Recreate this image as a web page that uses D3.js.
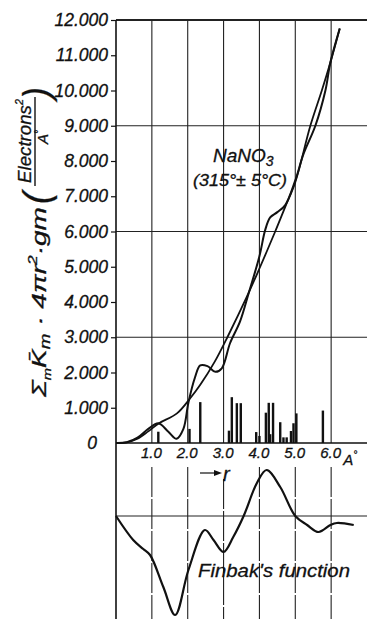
<!DOCTYPE html>
<html>
<head>
<meta charset="utf-8">
<script src="https://cdn.jsdelivr.net/npm/d3@7"></script>
<style>
  html, body { margin: 0; padding: 0; background: #fff; }
  svg text { font-family: "Liberation Sans", "DejaVu Sans", sans-serif; font-style: italic; fill: #111; stroke: #111; stroke-width: 0.3; }
</style>
</head>
<body>
<svg id="chart" width="367" height="619"></svg>
<script>
// distances r in Angstrom and curve values (electrons^2 / A)
const smoothR = [0, 0.3, 0.6, 0.9, 1.2, 1.7, 2.07, 2.35, 2.75, 3.13, 3.65, 4.0, 4.44, 4.72, 5.0, 5.42, 5.74, 5.98, 6.24];
const smoothV = [0, 20, 120, 330, 560, 840, 1270, 1650, 2300, 3050, 4150, 4950, 6000, 6700, 7400, 9000, 10000, 10800, 11760];

const rdfR = [0, 0.3, 0.6, 0.9, 1.18, 1.46, 1.69, 1.88, 2.02, 2.2, 2.35, 2.55, 2.77, 2.95, 3.18, 3.46, 3.7, 4.0, 4.16, 4.3, 4.5, 4.72, 5.0, 5.23, 5.56, 5.84, 5.98, 6.24];
const rdfV = [0, 20, 150, 400, 560, 320, 120, 400, 1150, 1850, 2200, 2180, 2020, 2120, 2830, 3450, 4250, 5300, 6040, 6400, 6550, 6750, 7450, 8200, 9000, 10000, 10800, 11760];

// sticks (interatomic distances)
const stickR = [1.18, 2.05, 2.35, 3.15, 3.23, 3.37, 3.48, 3.91, 4.0, 4.18, 4.26, 4.3, 4.38, 4.58, 4.67, 4.76, 4.88, 4.95, 5.03, 5.77];
const stickV = [320, 400, 1160, 350, 1300, 1130, 1130, 310, 200, 860, 1140, 250, 1140, 590, 160, 160, 340, 560, 840, 920];

// Finbak's function (arbitrary units)
const finR = [0, 0.48, 0.76, 0.95, 1.32, 1.65, 2.02, 2.48, 2.72, 3.0, 3.27, 3.56, 3.93, 4.2, 4.58, 5.0, 5.33, 5.65, 5.98, 6.16, 6.63];
const finV = [0, -0.24, -0.33, -0.39, -0.71, -0.99, -0.54, -0.14, -0.24, -0.36, -0.21, 0, 0.33, 0.46, 0.29, 0, -0.09, -0.16, -0.09, -0.07, -0.09];

const yTicks = d3.range(0, 12001, 1000);
const yGrid = [3000, 6000, 9000, 12000];
const xTicks = [1, 2, 3, 4, 5, 6];

const svg = d3.select("#chart");

const x = d3.scaleLinear().domain([0, 7]).range([116, 367]);
const yUp = d3.scaleLinear().domain([0, 12000]).range([443, 20]);
const yLow = d3.scaleLinear().domain([-1.03, 0.49]).range([619, 467]);

// grid
const grid = svg.append("g").attr("stroke", "#222").attr("stroke-width", 1.1);
grid.selectAll("line.vu").data(xTicks).join("line")
  .attr("x1", d => x(d)).attr("x2", d => x(d))
  .attr("y1", yUp(12000)).attr("y2", yUp(0));
grid.selectAll("line.vl").data(xTicks).join("line")
  .attr("x1", d => x(d)).attr("x2", d => x(d))
  .attr("y1", d => d === 3 ? 479 : yLow.range()[1]).attr("y2", yLow.range()[0])
  .attr("stroke-dasharray", "30,2");
grid.selectAll("line.h").data(yGrid).join("line")
  .attr("x1", x(0)).attr("x2", x(7))
  .attr("y1", d => yUp(d)).attr("y2", d => yUp(d))
  .attr("stroke-width", d => d === 12000 ? 2 : 1.2);
// baseline, zero line of lower panel, left axis
svg.append("line").attr("x1", x(0)).attr("x2", x(7)).attr("y1", yUp(0)).attr("y2", yUp(0))
  .attr("stroke", "#111").attr("stroke-width", 1.4);
svg.append("line").attr("x1", x(0)).attr("x2", x(7)).attr("y1", yLow(0)).attr("y2", yLow(0))
  .attr("stroke", "#222").attr("stroke-width", 1.1);
svg.append("line").attr("x1", x(0)).attr("x2", x(0)).attr("y1", yUp(12000)).attr("y2", 619)
  .attr("stroke", "#111").attr("stroke-width", 1.6);

// y axis
const yAxis = svg.append("g")
  .attr("transform", `translate(${x(0)},0)`)
  .call(d3.axisLeft(yUp).tickValues(yTicks).tickSize(5).tickPadding(3)
    .tickFormat(d => d === 0 ? "0" : d3.format(",")(d).replace(",", ".")));
yAxis.select(".domain").remove();
yAxis.selectAll("line").attr("stroke", "#111").attr("stroke-width", 1.2);
yAxis.selectAll("text")
  .attr("font-size", 17.5).attr("font-family", "Liberation Sans").attr("font-style", "italic")
  .attr("fill", "#111");
yAxis.selectAll(".tick").filter(d => d === 0).select("text").attr("x", -19);
yAxis.selectAll(".tick").filter(d => d === 0).select("line").remove();

// x axis labels
const xAxis = svg.append("g")
  .attr("transform", `translate(0,${yUp(0)})`)
  .call(d3.axisBottom(x).tickValues(xTicks).tickSize(0).tickPadding(4).tickFormat(d3.format(".1f")));
xAxis.select(".domain").remove();
xAxis.selectAll("text")
  .attr("font-size", 15).attr("font-family", "Liberation Sans").attr("font-style", "italic")
  .attr("fill", "#111").attr("x", -1);
svg.append("text").attr("x", x(6) + 12).attr("y", 465).attr("font-size", 15)
  .text("A").append("tspan").attr("dy", -7).attr("font-size", 10).text("°");

// r arrow
svg.append("line").attr("x1", 200).attr("x2", 219).attr("y1", 473).attr("y2", 473)
  .attr("stroke", "#111").attr("stroke-width", 1.2);
svg.append("path").attr("d", "M214,470 L222,473 L214,476 Z").attr("fill", "#111");
svg.append("text").attr("x", 223).attr("y", 481).attr("font-size", 20).text("r");

// sticks
svg.append("g").selectAll("rect").data(stickR).join("rect")
  .attr("x", d => x(d) - 1.2).attr("width", 2.4)
  .attr("y", (d, i) => yUp(stickV[i])).attr("height", (d, i) => yUp(0) - yUp(stickV[i]))
  .attr("fill", "#111");

// curves
const lineUp = d3.line().x(d => x(d[0])).y(d => yUp(d[1])).curve(d3.curveCatmullRom.alpha(0.5));
svg.append("path").attr("d", lineUp(d3.zip(smoothR, smoothV)))
  .attr("fill", "none").attr("stroke", "#111").attr("stroke-width", 1.8);
svg.append("path").attr("d", lineUp(d3.zip(rdfR, rdfV)))
  .attr("fill", "none").attr("stroke", "#111").attr("stroke-width", 2);

const lineLow = d3.line().x(d => x(d[0])).y(d => yLow(d[1])).curve(d3.curveCatmullRom.alpha(0.5));
svg.append("path").attr("d", lineLow(d3.zip(finR, finV)))
  .attr("fill", "none").attr("stroke", "#111").attr("stroke-width", 2.2);

// annotations
const nano = svg.append("text").attr("x", 213).attr("y", 162).attr("font-size", 19).text("NaNO");
nano.append("tspan").attr("dy", 4).attr("font-size", 14).text("3");
svg.append("text").attr("x", 193).attr("y", 186).attr("font-size", 16)
  .attr("textLength", 94).attr("lengthAdjust", "spacingAndGlyphs").text("(315°± 5°C)");
svg.append("text").attr("x", 198).attr("y", 577).attr("font-size", 19)
  .attr("textLength", 152).attr("lengthAdjust", "spacingAndGlyphs").text("Finbak's function");

// y axis title (rotated)
const title = svg.append("g").attr("transform", "translate(46,397) rotate(-90)");
const main = title.append("text").attr("x", 0).attr("y", 0).attr("font-size", 21)
  .attr("stroke-width", 0.15)
  .attr("textLength", 190).attr("lengthAdjust", "spacingAndGlyphs");
main.append("tspan").text("Σ");
main.append("tspan").attr("dy", 5).attr("font-size", 11).text("m");
main.append("tspan").attr("dy", -5).text("K\u0304");
main.append("tspan").attr("dy", 4).attr("font-size", 14).text("m");
main.append("tspan").attr("dy", -4).text(" · 4πr");
main.append("tspan").attr("dy", -9).attr("font-size", 13).text("2");
main.append("tspan").attr("dy", 9).text("·gm");
title.append("text").attr("x", 193).attr("y", 3).attr("font-size", 36).attr("font-style", "normal")
  .attr("stroke-width", 0).text("(");
title.append("text").attr("x", 298).attr("y", 3).attr("font-size", 36).attr("font-style", "normal")
  .attr("stroke-width", 0).text(")");
const num = title.append("text").attr("x", 214).attr("y", -15).attr("font-size", 19)
  .attr("textLength", 84).attr("lengthAdjust", "spacingAndGlyphs").text("Electrons");
num.append("tspan").attr("dy", -8).attr("font-size", 11).text("2");
title.append("line").attr("x1", 211).attr("x2", 300).attr("y1", -11).attr("y2", -11)
  .attr("stroke", "#111").attr("stroke-width", 1.4);
const den = title.append("text").attr("x", 253).attr("y", 2).attr("font-size", 15).text("A");
den.append("tspan").attr("dy", -6).attr("font-size", 10).text("°");
</script>
</body>
</html>
